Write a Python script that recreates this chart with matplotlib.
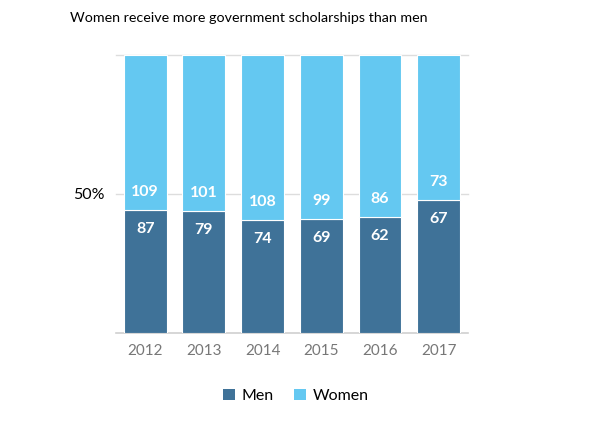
import matplotlib
matplotlib.use("Agg")
import matplotlib.pyplot as plt
from matplotlib.patches import Patch
import numpy as np

years = ["2012", "2013", "2014", "2015", "2016", "2017"]
men = [87, 79, 74, 69, 62, 67]
women = [109, 101, 108, 99, 86, 73]

plt.rcParams['font.family'] = ['Lato', 'DejaVu Sans']

men_c = '#3F7298'
women_c = '#64C8F1'

fig = plt.figure(figsize=(5.94, 4.28), dpi=100)
ax = fig.add_axes([0.195, 0.222, 0.593, 0.6495])

x = np.arange(len(years))
tot = np.array(men) + np.array(women)
mp = np.array(men) / tot
wp = np.array(women) / tot
w = 0.73
ax.bar(x, mp, width=w, color=men_c, edgecolor='white', linewidth=0.8, zorder=3)
ax.bar(x, wp, width=w, bottom=mp, color=women_c, edgecolor='white', linewidth=0.8, zorder=3)

for i in range(len(years)):
    ax.text(x[i], mp[i] - 0.070, str(men[i]), ha='center', va='center',
            color='white', fontsize=11.5, fontweight='bold', zorder=4)
    ax.text(x[i], mp[i] + 0.063, str(women[i]), ha='center', va='center',
            color='white', fontsize=11.5, fontweight='bold', zorder=4)

ax.set_xlim(-0.5, len(years) - 0.5)
ax.set_ylim(0, 1)
for yv, c, lw in [(1.0, '#DDDDDD', 1.0), (0.5, '#DDDDDD', 1.0), (0.0, '#D0D0D0', 1.2)]:
    ax.axhline(yv, color=c, linewidth=lw, zorder=1, clip_on=False)

ax.set_xticks(x)
ax.set_xticklabels(years, color='#777777', fontsize=11)
ax.set_yticks([0.5])
ax.set_yticklabels(['50%'], fontsize=11.5, color='black')
ax.tick_params(length=0, pad=8)
ax.tick_params(axis='y', pad=8)
for s in ax.spines.values():
    s.set_visible(False)

fig.text(0.418, 0.958, "Women receive more government scholarships than men",
         ha='center', va='center', fontsize=10.3, color='black')

handles = [Patch(facecolor=men_c, label='Men'), Patch(facecolor=women_c, label='Women')]
fig.legend(handles=handles, loc='center', bbox_to_anchor=(0.498, 0.075), ncol=2,
           frameon=False, fontsize=11.5, handlelength=0.75, handleheight=0.75,
           handletextpad=0.4, columnspacing=1.3)

fig.savefig('out.png', dpi=100)
